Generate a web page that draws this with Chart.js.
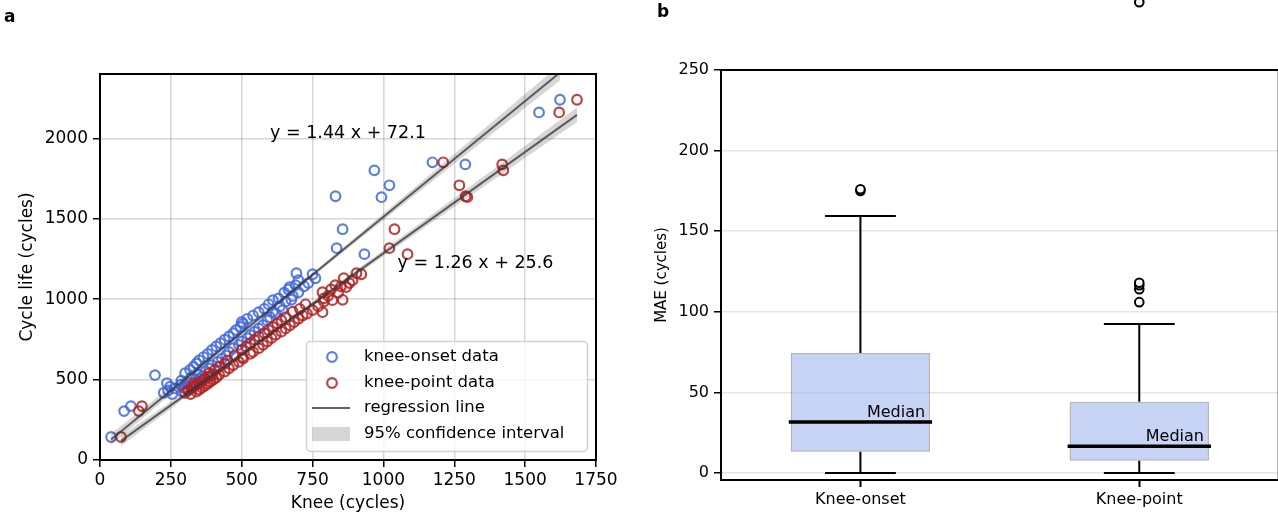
<!DOCTYPE html>
<html>
<head>
<meta charset="utf-8">
<script src="https://cdn.jsdelivr.net/npm/chart.js@4.4.1/dist/chart.umd.min.js"></script>
<style>
  html, body { margin: 0; padding: 0; background: #fff; overflow: hidden; }
  #wrap { position: relative; width: 1278px; height: 515px; }
  #chartA { position: absolute; left: 0; top: 0; }
  #chartB { position: absolute; left: 640px; top: 0; }
</style>
</head>
<body>
<div id="wrap">
  <canvas id="chartA" width="640" height="515"></canvas>
  <canvas id="chartB" width="645" height="515"></canvas>
</div>
<script>
// ---- panel a: one entry per cell (cycle life shared by both knee estimates)
const cycleLife = [143, 304, 335, 410, 418, 425, 432, 438, 445, 450, 456, 462, 468, 474, 478, 480, 487, 493, 500, 506, 512, 520,
  528, 530, 540, 550, 560, 570, 580, 590, 600, 610, 620, 630, 640, 650, 660,
  672, 684, 695, 706, 716, 726, 737, 748, 758, 768, 778, 788, 798, 808, 818, 828, 838, 848, 858, 868, 878, 888, 898,
  910, 919, 922, 932, 940, 955, 968, 985, 994, 996,
  1005, 1020, 1040, 1043, 1060, 1075, 1080, 1087, 1100, 1118, 1130, 1155, 1161,
  1280, 1317, 1435, 1634, 1640, 1708, 1801, 1838, 1851, 2161, 2240];
const kneeOnset = [39, 85, 109, 255, 225, 290, 240, 314, 264, 297, 247, 321, 285, 349, 236, 308, 343, 287, 337, 350, 321, 361,
  194, 350, 300, 372, 318, 385, 330, 395, 340, 415, 350, 430, 365, 445, 380,
  455, 395, 470, 410, 490, 425, 500, 440, 520, 455, 530, 470, 545, 480, 560, 495, 575, 505, 500, 590, 520, 600, 540,
  620, 560, 610, 644, 580, 635, 595, 655, 610, 675,
  630, 680, 650, 700, 665, 669, 720, 690, 735, 700, 760, 750, 693,
  933, 835, 856, 993, 831, 1021, 968, 1289, 1173, 1549, 1623];
const kneePoint = [74, 137, 148, 320, 300, 340, 310, 350, 325, 360, 330, 370, 340, 380, 330, 355, 390, 360, 400, 370, 410, 385,
  395, 420, 385, 440, 405, 455, 420, 470, 440, 490, 450, 505, 503, 475, 530,
  540, 500, 560, 515, 575, 530, 590, 545, 605, 560, 620, 580, 640, 595, 655, 610, 670, 625, 685, 640, 700, 655, 715,
  730, 785, 680, 750, 705, 770, 725, 790, 820, 856,
  790, 805, 840, 785, 815, 869, 850, 830, 880, 891, 860, 922, 905,
  1085, 1021, 1039, 1296, 1290, 1268, 1423, 1419, 1211, 1620, 1683];

// regression lines (y = 1.44 x + 72.1 and y = 1.26 x + 25.6) over the data range
const onsetLineX = [39, 1623];
const onsetLineY = [128, 2409];
const pointLineX = [74, 1683];
const pointLineY = [119, 2146];

// 95% confidence bands
const onsetCiX = [39, 400, 800, 1200, 1623];
const onsetCiUpper = [163, 664, 1237, 1828, 2459];
const onsetCiLower = [93, 632, 1211, 1772, 2359];
const pointCiX = [74, 400, 800, 1200, 1683];
const pointCiUpper = [151, 544, 1046, 1563, 2191];
const pointCiLower = [87, 516, 1022, 1513, 2101];

const xTicksA = [0, 250, 500, 750, 1000, 1250, 1500, 1750];
const yTicksA = [0, 500, 1000, 1500, 2000];

// ---- panel b: box plot summaries
const boxLabels = ['Knee-onset', 'Knee-point'];
const boxQ1 = [13.2, 7.6];
const boxMedian = [31.6, 16.7];
const boxQ3 = [74.5, 44.2];
const whiskerLow = [0, 0];
const whiskerHigh = [159.5, 92.5];
const outliersOnset = [175, 176];
const outliersPoint = [106, 114, 116.5, 118, 292];
const yTicksB = [0, 50, 100, 150, 200, 250];

const FONT = '"DejaVu Sans", sans-serif';
Chart.defaults.font.family = FONT;
Chart.defaults.color = '#000';

const BLUE = 'rgba(65,105,225,0.85)';
const RED = 'rgba(178,34,34,0.85)';
const BAND = 'rgba(0,0,0,0.16)';
const REG = 'rgba(60,60,60,0.8)';

const xy = (xs, ys) => xs.map((x, i) => ({x: x, y: ys[i]}));
const fixTicks = list => s => { s.ticks = list.map(v => ({value: v})); };

// panel a decorations: spines, equations, legend, letter
const panelA = {
  id: 'panelA',
  afterDraw(chart) {
    const {ctx, chartArea: a, scales: {x, y}} = chart;
    ctx.save();
    ctx.strokeStyle = '#000';
    ctx.lineWidth = 2;
    ctx.strokeRect(a.left, a.top, a.right - a.left, a.bottom - a.top);

    ctx.fillStyle = '#000';
    ctx.font = '17.5px ' + FONT;
    ctx.textAlign = 'left';
    ctx.textBaseline = 'middle';
    ctx.fillText('y = 1.44 x + 72.1', x.getPixelForValue(600), y.getPixelForValue(2030));
    ctx.fillText('y = 1.26 x + 25.6', x.getPixelForValue(1050), y.getPixelForValue(1225));

    // legend
    ctx.beginPath();
    ctx.roundRect(306.5, 341.5, 281, 110, 4);
    ctx.fillStyle = 'rgba(255,255,255,0.8)';
    ctx.fill();
    ctx.strokeStyle = '#d2d2d2';
    ctx.lineWidth = 1.5;
    ctx.stroke();

    ctx.lineWidth = 2.2;
    ctx.strokeStyle = BLUE;
    ctx.beginPath(); ctx.arc(332, 357, 4.8, 0, Math.PI * 2); ctx.stroke();
    ctx.strokeStyle = RED;
    ctx.beginPath(); ctx.arc(332, 383, 4.8, 0, Math.PI * 2); ctx.stroke();
    ctx.lineWidth = 1.8;
    ctx.strokeStyle = REG;
    ctx.beginPath(); ctx.moveTo(312, 408); ctx.lineTo(350, 408); ctx.stroke();
    ctx.fillStyle = BAND;
    ctx.fillRect(312, 427, 38, 14);

    ctx.fillStyle = '#000';
    ctx.font = '16.5px ' + FONT;
    ctx.fillText('knee-onset data', 364, 357);
    ctx.fillText('knee-point data', 364, 383);
    ctx.fillText('regression line', 364, 408);
    ctx.fillText('95% confidence interval', 364, 434);

    ctx.font = 'bold 17px ' + FONT;
    ctx.fillText('a', 4, 18);
    ctx.restore();
  }
};

new Chart(document.getElementById('chartA'), {
  type: 'scatter',
  data: {
    datasets: [
      { label: 'knee-onset data', data: xy(kneeOnset, cycleLife), borderColor: BLUE, backgroundColor: 'transparent',
        pointRadius: 4.8, borderWidth: 2.2, order: 6 },
      { label: 'knee-point data', data: xy(kneePoint, cycleLife), borderColor: RED, backgroundColor: 'transparent',
        pointRadius: 4.8, borderWidth: 2.2, order: 5 },
      { type: 'line', data: xy(onsetCiX, onsetCiUpper), borderWidth: 0, pointRadius: 0, fill: '+1',
        backgroundColor: BAND, order: 4 },
      { type: 'line', data: xy(onsetCiX, onsetCiLower), borderWidth: 0, pointRadius: 0, fill: false, order: 4 },
      { type: 'line', data: xy(pointCiX, pointCiUpper), borderWidth: 0, pointRadius: 0, fill: '+1',
        backgroundColor: BAND, order: 3 },
      { type: 'line', data: xy(pointCiX, pointCiLower), borderWidth: 0, pointRadius: 0, fill: false, order: 3 },
      { type: 'line', label: 'regression line', data: xy(onsetLineX, onsetLineY), borderColor: REG, borderWidth: 2,
        pointRadius: 0, fill: false, order: 1 },
      { type: 'line', data: xy(pointLineX, pointLineY), borderColor: REG, borderWidth: 2,
        pointRadius: 0, fill: false, order: 1 }
    ]
  },
  options: {
    responsive: false,
    animation: false,
    devicePixelRatio: 1,
    layout: { padding: { left: 0, top: 74, right: 44, bottom: 0 } },
    plugins: { legend: { display: false }, tooltip: { enabled: false } },
    scales: {
      x: {
        type: 'linear', min: 0, max: 1750,
        afterBuildTicks: fixTicks(xTicksA),
        ticks: { maxRotation: 0, autoSkip: false, font: { size: 17 }, color: '#000', padding: 3, callback: v => String(v) },
        grid: { color: 'rgba(0,0,0,0.16)', lineWidth: 1.5, tickColor: '#000', tickLength: 7, tickWidth: 1.5 },
        border: { display: false },
        title: { display: true, text: 'Knee (cycles)', font: { size: 17 }, color: '#000', padding: { top: 0, bottom: 1 } },
        afterFit: s => { s.height = 55; }
      },
      y: {
        type: 'linear', min: 0, max: 2400,
        afterBuildTicks: fixTicks(yTicksA),
        ticks: { autoSkip: false, font: { size: 17 }, color: '#000', padding: 5, callback: v => String(v) },
        grid: { color: 'rgba(0,0,0,0.16)', lineWidth: 1.5, tickColor: '#000', tickLength: 7, tickWidth: 1.5 },
        border: { display: false },
        title: { display: true, text: 'Cycle life (cycles)', font: { size: 17 }, color: '#000', padding: { top: 17, bottom: 0 } },
        afterFit: s => { s.width = 100; }
      }
    }
  },
  plugins: [panelA]
});

// ---- panel b datasets built from the summaries
const whiskerData = [];
const capData = [];
const medianData = [];
boxLabels.forEach((_, i) => {
  whiskerData.push({x: i, y: boxQ3[i]}, {x: i, y: whiskerHigh[i]}, {x: i, y: null},
                   {x: i, y: boxQ1[i]}, {x: i, y: whiskerLow[i]}, {x: i, y: null});
  capData.push({x: i - 0.127, y: whiskerHigh[i]}, {x: i + 0.127, y: whiskerHigh[i]}, {x: i, y: null},
               {x: i - 0.127, y: whiskerLow[i]}, {x: i + 0.127, y: whiskerLow[i]}, {x: i, y: null});
  medianData.push({x: i - 0.257, y: boxMedian[i]}, {x: i + 0.257, y: boxMedian[i]}, {x: i, y: null});
});
const outlierData = outliersOnset.map(v => ({x: 0, y: v})).concat(outliersPoint.map(v => ({x: 1, y: v})));

const panelB = {
  id: 'panelB',
  afterDraw(chart) {
    const {ctx, chartArea: a, scales: {x, y}} = chart;
    ctx.save();
    ctx.strokeStyle = '#000';
    ctx.lineWidth = 2;
    ctx.strokeRect(a.left, a.top, a.right - a.left, a.bottom - a.top);

    // outliers beyond the axis top (Chart.js skips points outside the chart area)
    outlierData.filter(p => p.y > y.max).forEach(p => {
      ctx.beginPath();
      ctx.arc(x.getPixelForValue(p.x), y.getPixelForValue(p.y), 4.3, 0, Math.PI * 2);
      ctx.fillStyle = '#fff';
      ctx.fill();
      ctx.lineWidth = 2;
      ctx.stroke();
    });

    ctx.fillStyle = '#000';
    ctx.font = '16px ' + FONT;
    ctx.textAlign = 'right';
    ctx.textBaseline = 'alphabetic';
    boxLabels.forEach((_, i) => {
      ctx.fillText('Median', x.getPixelForValue(i + 0.25) - 5, y.getPixelForValue(boxMedian[i]) - 5);
    });

    ctx.textAlign = 'left';
    ctx.textBaseline = 'middle';
    ctx.font = 'bold 17px ' + FONT;
    ctx.fillText('b', 17, 13);
    ctx.restore();
  }
};

new Chart(document.getElementById('chartB'), {
  type: 'bar',
  data: {
    datasets: [
      { type: 'line', data: outlierData, showLine: false, pointRadius: 4.3, pointBorderWidth: 2,
        pointBackgroundColor: '#fff', pointBorderColor: '#000', clip: false, order: 0 },
      { type: 'line', data: medianData, borderColor: '#000', borderWidth: 3.5, borderCapStyle: 'butt',
        pointRadius: 0, fill: false, spanGaps: false, order: 1 },
      { type: 'line', data: whiskerData, borderColor: '#000', borderWidth: 2, pointRadius: 0, fill: false,
        spanGaps: false, order: 2 },
      { type: 'line', data: capData, borderColor: '#000', borderWidth: 2, pointRadius: 0, fill: false,
        spanGaps: false, order: 2 },
      { type: 'bar', data: boxLabels.map((_, i) => ({x: i, y: [boxQ1[i], boxQ3[i]]})),
        backgroundColor: 'rgba(162,183,238,0.6)', borderColor: 'rgba(120,120,120,0.55)', borderWidth: 1.5,
        borderSkipped: false, barPercentage: 0.5, categoryPercentage: 1, grouped: false, order: 5 }
    ]
  },
  options: {
    responsive: false,
    animation: false,
    devicePixelRatio: 1,
    layout: { padding: { left: 0, top: 70, right: 4, bottom: 0 } },
    plugins: { legend: { display: false }, tooltip: { enabled: false } },
    scales: {
      x: {
        type: 'linear', min: -0.5, max: 1.5, offset: false,
        afterBuildTicks: fixTicks(boxLabels.map((_, i) => i)),
        ticks: { maxRotation: 0, autoSkip: false, font: { size: 16 }, color: '#000', padding: 3,
                 callback: v => boxLabels[v] },
        grid: { drawOnChartArea: false, offset: false, tickColor: '#000', tickLength: 7, tickWidth: 2 },
        border: { display: false },
        afterFit: s => { s.height = 35; }
      },
      y: {
        type: 'linear', min: -4.3, max: 250,
        afterBuildTicks: fixTicks(yTicksB),
        ticks: { autoSkip: false, font: { size: 16 }, color: '#000', padding: 5, callback: v => String(v) },
        grid: { color: '#e6e6e6', lineWidth: 1.5, tickColor: '#000', tickLength: 7, tickWidth: 1.5 },
        border: { display: false },
        title: { display: true, text: 'MAE (cycles)', font: { size: 15 }, color: '#000', padding: { top: 13, bottom: 0 } },
        afterFit: s => { s.width = 81; }
      }
    }
  },
  plugins: [panelB]
});
</script>
</body>
</html>
